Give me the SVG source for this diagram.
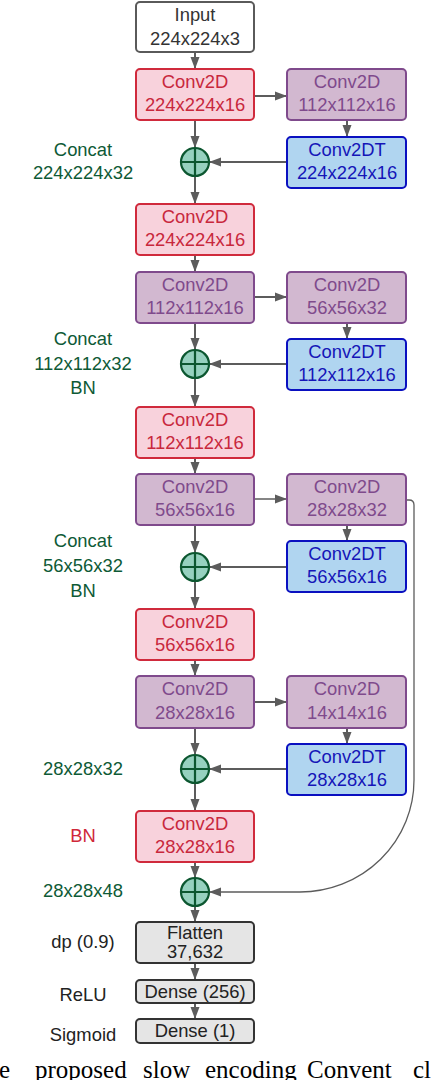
<svg xmlns="http://www.w3.org/2000/svg" width="446" height="1080" viewBox="0 0 446 1080">
<defs>
<marker id="ah" viewBox="0 0 12 10" refX="12" refY="5" markerWidth="12" markerHeight="10" markerUnits="userSpaceOnUse" orient="auto">
<path d="M0,0.5 L12,5 L0,9.5 z" fill="#5c5c5c"/>
</marker>
<style>
text{font-family:"Liberation Sans",Arial,sans-serif;font-size:18.4px;text-anchor:middle}
rect{stroke-width:2}
.red rect{fill:#f8d2dc;stroke:#d02a3c}.red text{fill:#c8283c}
.pur rect{fill:#d2b8d0;stroke:#7f4a8c}.pur text{fill:#7f4a8c}
.blu rect{fill:#b0d5f0;stroke:#0a10c0}.blu text{fill:#1515b8}
.gry rect{fill:#e5e5e5;stroke:#333}.gry text{fill:#222}
.inp rect{fill:#fff;stroke:#5a5a5a}.inp text{fill:#333}
.cat circle{fill:#96d1bf;stroke:#0c5730;stroke-width:2.2}.cat path{stroke:#0c5730;stroke-width:2.2;fill:none}
.lbl{fill:#0e5a36}
.blk{fill:#222}
.bn{fill:#d0283a}
#edges line,#edges path{stroke:#5c5c5c;stroke-width:2;fill:none;marker-end:url(#ah)}
#edges .thin{stroke-width:1.3}
.cap{font-family:"Liberation Serif","Times New Roman",serif;font-size:25px;text-anchor:start;fill:#000}
</style>
</defs>

<g id="edges">
<line x1="195" y1="52" x2="195" y2="69"/>
<line x1="195" y1="120" x2="195" y2="148"/>
<line x1="195" y1="176" x2="195" y2="204"/>
<line x1="195" y1="255" x2="195" y2="272"/>
<line x1="195" y1="323" x2="195" y2="350"/>
<line x1="195" y1="378" x2="195" y2="407"/>
<line x1="195" y1="458" x2="195" y2="474"/>
<line x1="195" y1="525" x2="195" y2="553"/>
<line x1="195" y1="581" x2="195" y2="609"/>
<line x1="195" y1="660" x2="195" y2="676"/>
<line x1="195" y1="728" x2="195" y2="755"/>
<line x1="195" y1="783" x2="195" y2="811"/>
<line x1="195" y1="862" x2="195" y2="878"/>
<line x1="195" y1="906" x2="195" y2="922"/>
<line x1="195" y1="963" x2="195" y2="980"/>
<line x1="195" y1="1003" x2="195" y2="1019"/>
<line x1="254" y1="96" x2="287" y2="96"/>
<line x1="254" y1="297" x2="287" y2="297"/>
<line class="thin" x1="254" y1="499" x2="287" y2="499"/>
<line x1="254" y1="702" x2="287" y2="702"/>
<line x1="347" y1="120" x2="347" y2="137"/>
<line x1="347" y1="323" x2="347" y2="339"/>
<line x1="347" y1="525" x2="347" y2="541"/>
<line x1="347" y1="728" x2="347" y2="744"/>
<line x1="287" y1="162" x2="209" y2="162"/>
<line x1="287" y1="364" x2="209" y2="364"/>
<line x1="287" y1="567" x2="209" y2="567"/>
<line x1="287" y1="769" x2="209" y2="769"/>
<path class="thin" d="M406,500 H409 Q414,500 414,505 V780 A114,112 0 0 1 300,892 L209,892"/>
</g>

<g id="input" class="inp"><rect x="136" y="2" width="118" height="50" rx="4"/><text x="195" y="21">Input</text><text x="195" y="45">224x224x3</text></g>

<g id="conv1" class="red"><rect x="136" y="69" width="118" height="51" rx="4"/><text x="195" y="88">Conv2D</text><text x="195" y="111">224x224x16</text></g>
<g id="conv1b" class="pur"><rect x="287" y="69" width="119" height="51" rx="4"/><text x="347" y="88">Conv2D</text><text x="347" y="111">112x112x16</text></g>
<g id="convT1" class="blu"><rect x="287" y="137" width="119" height="51" rx="4"/><text x="347" y="156">Conv2DT</text><text x="347" y="179">224x224x16</text></g>
<g id="cat1" class="cat"><circle cx="195" cy="162" r="14"/><path d="M181,162 H209 M195,148 V176"/></g>
<g id="lbl1"><text class="lbl" x="83" y="156">Concat</text><text class="lbl" x="83" y="179">224x224x32</text></g>

<g id="conv2" class="red"><rect x="136" y="204" width="118" height="51" rx="4"/><text x="195" y="223">Conv2D</text><text x="195" y="246">224x224x16</text></g>
<g id="conv3" class="pur"><rect x="136" y="272" width="118" height="51" rx="4"/><text x="195" y="291">Conv2D</text><text x="195" y="314">112x112x16</text></g>
<g id="conv3b" class="pur"><rect x="287" y="272" width="119" height="51" rx="4"/><text x="347" y="291">Conv2D</text><text x="347" y="314">56x56x32</text></g>
<g id="convT2" class="blu"><rect x="287" y="339" width="119" height="51" rx="4"/><text x="347" y="358">Conv2DT</text><text x="347" y="381">112x112x16</text></g>
<g id="cat2" class="cat"><circle cx="195" cy="364" r="14"/><path d="M181,364 H209 M195,350 V378"/></g>
<g id="lbl2"><text class="lbl" x="83" y="345">Concat</text><text class="lbl" x="83" y="370">112x112x32</text><text class="lbl" x="83" y="394">BN</text></g>

<g id="conv4" class="red"><rect x="136" y="407" width="118" height="51" rx="4"/><text x="195" y="426">Conv2D</text><text x="195" y="449">112x112x16</text></g>
<g id="conv5" class="pur"><rect x="136" y="474" width="118" height="51" rx="4"/><text x="195" y="493">Conv2D</text><text x="195" y="516">56x56x16</text></g>
<g id="conv5b" class="pur"><rect x="287" y="474" width="119" height="51" rx="4"/><text x="347" y="493">Conv2D</text><text x="347" y="516">28x28x32</text></g>
<g id="convT3" class="blu"><rect x="287" y="541" width="119" height="51" rx="4"/><text x="347" y="560">Conv2DT</text><text x="347" y="583">56x56x16</text></g>
<g id="cat3" class="cat"><circle cx="195" cy="567" r="14"/><path d="M181,567 H209 M195,553 V581"/></g>
<g id="lbl3"><text class="lbl" x="83" y="547">Concat</text><text class="lbl" x="83" y="572">56x56x32</text><text class="lbl" x="83" y="597">BN</text></g>

<g id="conv6" class="red"><rect x="136" y="609" width="118" height="51" rx="4"/><text x="195" y="628">Conv2D</text><text x="195" y="651">56x56x16</text></g>
<g id="conv7" class="pur"><rect x="136" y="676" width="118" height="52" rx="4"/><text x="195" y="695">Conv2D</text><text x="195" y="719">28x28x16</text></g>
<g id="conv7b" class="pur"><rect x="287" y="676" width="119" height="52" rx="4"/><text x="347" y="695">Conv2D</text><text x="347" y="719">14x14x16</text></g>
<g id="convT4" class="blu"><rect x="287" y="744" width="119" height="51" rx="4"/><text x="347" y="763">Conv2DT</text><text x="347" y="786">28x28x16</text></g>
<g id="cat4" class="cat"><circle cx="195" cy="769" r="14"/><path d="M181,769 H209 M195,755 V783"/></g>
<g id="lbl4"><text class="lbl" x="83" y="775">28x28x32</text></g>

<g id="conv8" class="red"><rect x="136" y="811" width="118" height="51" rx="4"/><text x="195" y="830">Conv2D</text><text x="195" y="853">28x28x16</text></g>
<g id="lbl5"><text class="bn" x="83" y="842">BN</text></g>
<g id="cat5" class="cat"><circle cx="195" cy="892" r="14"/><path d="M181,892 H209 M195,878 V906"/></g>
<g id="lbl6"><text class="lbl" x="83" y="897">28x28x48</text></g>

<g id="flatten" class="gry"><rect x="136" y="922" width="118" height="41" rx="4"/><text x="195" y="939">Flatten</text><text x="195" y="958">37,632</text></g>
<g id="lbl7"><text class="blk" x="83" y="948">dp (0.9)</text></g>
<g id="dense256" class="gry"><rect x="136" y="980" width="118" height="23" rx="4"/><text x="195" y="998">Dense (256)</text></g>
<g id="lbl8"><text class="blk" x="83" y="1001">ReLU</text></g>
<g id="dense1" class="gry"><rect x="136" y="1019" width="118" height="24" rx="4"/><text x="195" y="1037">Dense (1)</text></g>
<g id="lbl9"><text class="blk" x="83" y="1041">Sigmoid</text></g>

<g id="caption"><text class="cap" y="1078"><tspan x="-1">e</tspan><tspan x="35">proposed</tspan><tspan x="143">slow</tspan><tspan x="205">encoding</tspan><tspan x="307">Convent</tspan><tspan x="413">cl</tspan></text></g>
</svg>
